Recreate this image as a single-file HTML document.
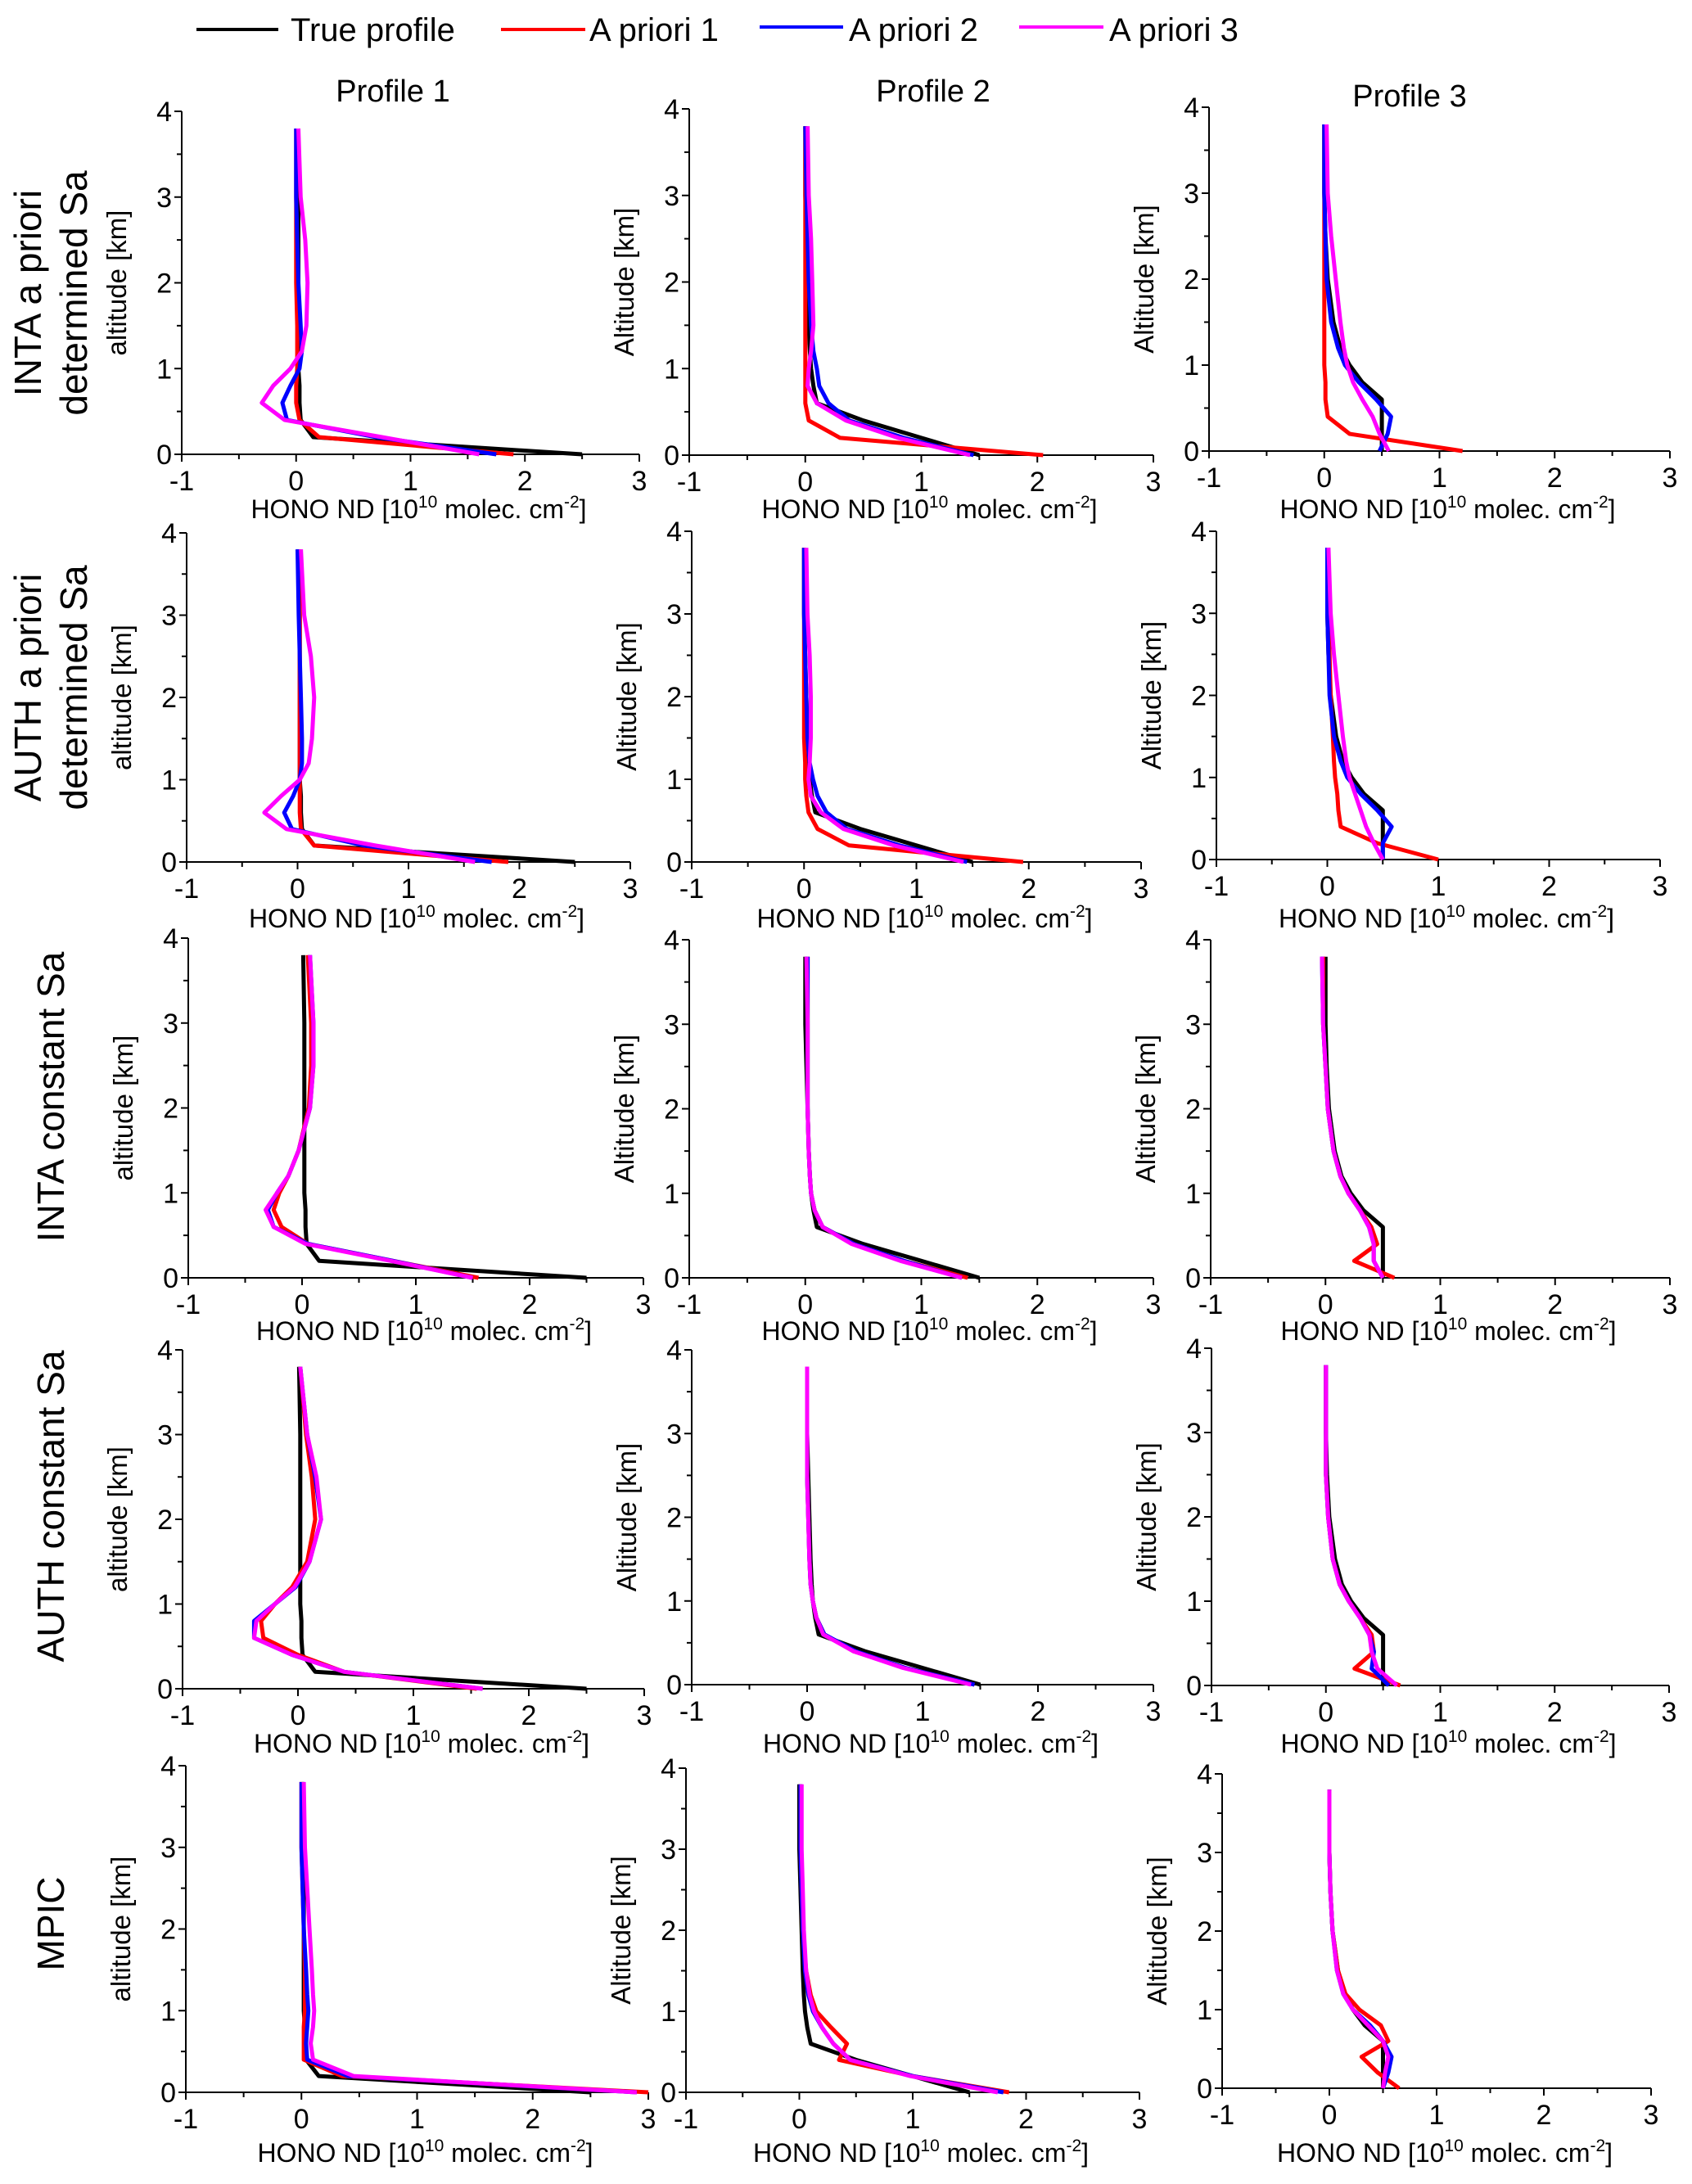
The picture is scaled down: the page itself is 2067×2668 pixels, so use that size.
<!DOCTYPE html>
<html><head><meta charset="utf-8"><style>
html,body{margin:0;padding:0;background:#fff;}
svg{display:block;font-family:"Liberation Sans",Arial,sans-serif;}
</style></head><body>
<svg id="fig" width="2067" height="2668" viewBox="0 0 2067 2668" xmlns="http://www.w3.org/2000/svg">
<g font-size="40">
 <g><line x1="240" y1="36" x2="340" y2="36" stroke="#000" stroke-width="4"/><text x="355" y="50">True profile</text></g>
 <g><line x1="612" y1="36" x2="715" y2="36" stroke="#f00" stroke-width="4"/><text x="720" y="50">A priori 1</text></g>
 <g><line x1="928" y1="33" x2="1030" y2="33" stroke="#00f" stroke-width="4"/><text x="1037" y="50">A priori 2</text></g>
 <g><line x1="1245" y1="33" x2="1348" y2="33" stroke="#f0f" stroke-width="4"/><text x="1355" y="50">A priori 3</text></g>
</g>
<g font-size="38" text-anchor="middle">
 <text x="480" y="124">Profile 1</text>
 <text x="1140" y="124">Profile 2</text>
 <text x="1722" y="130">Profile 3</text>
</g>
<g id="panels"></g>
</svg>
<script>
// altitude grid (km)
const alts = [0,0.2,0.4,0.6,0.8,1.0,1.2,1.5,2.0,2.5,3.0,3.8];
const xTicks = [-1,0,1,2,3];
const yTicks = [0,1,2,3,4];
const rowTitles = [["INTA a priori","determined Sa"],["AUTH a priori","determined Sa"],["INTA constant Sa"],["AUTH constant Sa"],["MPIC"]];
const colNames = ["profile-1","profile-2","profile-3"];
// True profiles
const true1 = [2.5,0.15,0.04,0.03,0.03,0.02,0.02,0.02,0.02,0.02,0.02,0.01];
const true2 = [1.5,1.0,0.5,0.1,0.07,0.05,0.04,0.03,0.02,0.01,0.0,0.0];
const true3 = [0.5,0.5,0.5,0.5,0.33,0.22,0.14,0.08,0.03,0.01,0.0,0.0];
// Row 1: INTA a priori determined Sa
const r1p1a1 = [1.9,0.2,0.03,0.0,0.0,0.01,0.01,0.01,0.0,0.0,0.0,0.0];
const r1p1a2 = [1.75,0.7,-0.08,-0.12,-0.05,0.03,0.05,0.04,0.02,0.01,0.0,0.0];
const r1p1a3 = [1.6,0.75,-0.1,-0.3,-0.2,-0.05,0.05,0.09,0.1,0.08,0.04,0.02];
const r1p2a1 = [2.05,0.3,0.03,0.0,0.0,0.0,0.0,0.0,0.0,0.0,0.0,0.0];
const r1p2a2 = [1.45,0.85,0.38,0.2,0.12,0.1,0.07,0.05,0.03,0.02,0.01,0.0];
const r1p2a3 = [1.42,0.8,0.35,0.1,0.02,0.03,0.05,0.07,0.06,0.05,0.03,0.02];
const r1p3a1 = [1.2,0.22,0.03,0.01,0.01,0.0,0.0,0.0,0.0,0.0,0.0,0.0];
const r1p3a2 = [0.48,0.55,0.58,0.45,0.3,0.18,0.12,0.06,0.02,0.01,0.0,0.0];
const r1p3a3 = [0.56,0.48,0.42,0.33,0.25,0.2,0.17,0.14,0.1,0.06,0.03,0.02];
// Row 2: AUTH a priori determined Sa
const r2p1a1 = [1.9,0.15,0.03,0.02,0.02,0.02,0.02,0.02,0.02,0.02,0.02,0.02];
const r2p1a2 = [1.75,0.6,-0.05,-0.12,-0.04,0.02,0.04,0.04,0.03,0.02,0.01,0.0];
const r2p1a3 = [1.6,0.7,-0.1,-0.3,-0.15,0.02,0.1,0.13,0.15,0.12,0.06,0.03];
const r2p2a1 = [1.95,0.4,0.12,0.04,0.02,0.01,0.01,0.0,0.0,0.0,0.0,0.0];
const r2p2a2 = [1.45,0.85,0.38,0.2,0.12,0.08,0.05,0.03,0.02,0.01,0.0,0.0];
const r2p2a3 = [1.42,0.8,0.35,0.15,0.06,0.04,0.05,0.06,0.06,0.05,0.03,0.02];
const r2p3a1 = [1.0,0.45,0.12,0.1,0.09,0.07,0.06,0.05,0.03,0.02,0.01,0.0];
const r2p3a2 = [0.5,0.5,0.58,0.45,0.3,0.18,0.12,0.06,0.02,0.01,0.0,0.0];
const r2p3a3 = [0.5,0.42,0.35,0.3,0.25,0.2,0.17,0.14,0.1,0.06,0.03,0.01];
// Row 3: INTA constant Sa
const r3p1a1 = [1.55,0.8,0.05,-0.18,-0.25,-0.2,-0.12,-0.03,0.06,0.08,0.08,0.05];
const r3p1a2 = [1.5,0.8,0.05,-0.25,-0.3,-0.22,-0.12,-0.03,0.07,0.1,0.1,0.07];
const r3p1a3 = [1.5,0.78,0.03,-0.25,-0.32,-0.22,-0.12,-0.03,0.07,0.1,0.1,0.07];
const r3p2a1 = [1.4,0.85,0.42,0.15,0.08,0.05,0.04,0.03,0.02,0.02,0.02,0.02];
const r3p2a2 = [1.35,0.85,0.42,0.15,0.08,0.05,0.04,0.03,0.02,0.02,0.02,0.02];
const r3p2a3 = [1.35,0.82,0.4,0.15,0.08,0.05,0.04,0.03,0.02,0.02,0.02,0.01];
const r3p3a1 = [0.6,0.25,0.45,0.4,0.3,0.2,0.13,0.07,0.02,0.0,-0.02,-0.02];
const r3p3a2 = [0.5,0.42,0.42,0.38,0.3,0.2,0.13,0.07,0.02,0.0,-0.02,-0.03];
const r3p3a3 = [0.5,0.42,0.42,0.38,0.3,0.2,0.13,0.07,0.02,0.0,-0.02,-0.03];
// Row 4: AUTH constant Sa
const r4p1a1 = [1.55,0.4,0.0,-0.3,-0.32,-0.2,-0.05,0.08,0.15,0.12,0.07,0.02];
const r4p1a2 = [1.6,0.4,-0.05,-0.38,-0.38,-0.2,-0.02,0.1,0.2,0.15,0.08,0.02];
const r4p1a3 = [1.6,0.4,-0.05,-0.38,-0.36,-0.2,-0.03,0.1,0.2,0.16,0.08,0.02];
const r4p2a1 = [1.45,0.85,0.4,0.15,0.08,0.05,0.03,0.02,0.01,0.0,0.0,0.0];
const r4p2a2 = [1.45,0.85,0.42,0.15,0.08,0.05,0.03,0.02,0.01,0.0,0.0,0.0];
const r4p2a3 = [1.42,0.83,0.4,0.14,0.08,0.05,0.03,0.02,0.01,0.0,0.0,0.0];
const r4p3a1 = [0.65,0.25,0.42,0.4,0.3,0.2,0.12,0.06,0.02,0.0,0.0,0.0];
const r4p3a2 = [0.55,0.4,0.42,0.38,0.3,0.2,0.12,0.06,0.02,0.0,0.0,0.0];
const r4p3a3 = [0.62,0.45,0.4,0.38,0.3,0.2,0.12,0.06,0.02,0.0,0.0,0.0];
// Row 5: MPIC
const r5p1a1 = [3.0,0.35,0.02,0.02,0.02,0.03,0.03,0.03,0.02,0.01,0.0,0.0];
const r5p1a2 = [2.9,0.4,0.05,0.04,0.05,0.06,0.05,0.04,0.02,0.01,0.0,0.0];
const r5p1a3 = [2.9,0.45,0.1,0.08,0.1,0.11,0.1,0.09,0.07,0.05,0.03,0.02];
const r5p2a1 = [1.85,1.0,0.35,0.42,0.28,0.15,0.1,0.06,0.03,0.02,0.01,0.01];
const r5p2a2 = [1.8,1.0,0.45,0.3,0.2,0.12,0.08,0.05,0.03,0.02,0.01,0.01];
const r5p2a3 = [1.75,0.98,0.45,0.3,0.2,0.13,0.09,0.06,0.04,0.03,0.02,0.02];
const r5p3a1 = [0.65,0.45,0.3,0.55,0.48,0.28,0.15,0.08,0.03,0.01,0.0,0.0];
const r5p3a2 = [0.5,0.55,0.58,0.5,0.38,0.22,0.13,0.07,0.03,0.01,0.0,0.0];
const r5p3a3 = [0.5,0.52,0.55,0.5,0.36,0.22,0.13,0.07,0.03,0.01,0.0,0.0];

const panelBoxes = [
 [[222,781,136,555],[842,1409,133,556],[1477,2040,131,551]],
 [[228,770,651,1053],[845,1394,649,1053],[1486,2028,649,1050]],
 [[230,786,1146,1561],[842,1409,1148,1561],[1479,2040,1148,1561]],
 [[223,787,1649,2063],[845,1409,1649,2058],[1480,2039,1647,2059]],
 [[227,792,2157,2556],[838,1392,2160,2556],[1493,2017,2167,2551]]
];
const xLabelY = [633,1133,1637,2141,2641];
const rowTitleY = [358,840,1340,1840,2350];
const trues = [true1,true2,true3];
const retrievals = [
 [[r1p1a1,r1p1a2,r1p1a3],[r1p2a1,r1p2a2,r1p2a3],[r1p3a1,r1p3a2,r1p3a3]],
 [[r2p1a1,r2p1a2,r2p1a3],[r2p2a1,r2p2a2,r2p2a3],[r2p3a1,r2p3a2,r2p3a3]],
 [[r3p1a1,r3p1a2,r3p1a3],[r3p2a1,r3p2a2,r3p2a3],[r3p3a1,r3p3a2,r3p3a3]],
 [[r4p1a1,r4p1a2,r4p1a3],[r4p2a1,r4p2a2,r4p2a3],[r4p3a1,r4p3a2,r4p3a3]],
 [[r5p1a1,r5p1a2,r5p1a3],[r5p2a1,r5p2a2,r5p2a3],[r5p3a1,r5p3a2,r5p3a3]]
];
const colors = ["#000","#f00","#00f","#f0f"];
const seriesNames = ["true-profile","apriori-1","apriori-2","apriori-3"];
const NS = "http://www.w3.org/2000/svg";
const root = document.getElementById("panels");
function mk(tag, attrs, parent){const e=document.createElementNS(NS,tag);for(const k in attrs)e.setAttribute(k,attrs[k]);parent.appendChild(e);return e;}

rowTitles.forEach((lines, r) => {
  const t = mk("text", {transform:`translate(${lines.length>1?50:78},${rowTitleY[r]}) rotate(-90)`, "font-size":"46", "text-anchor":"middle"}, root);
  
  
  lines.forEach((ln,i)=>{const ts=mk("tspan",{x:0,dy:i===0?0:56},t);ts.textContent=ln;});
});

for (let r=0;r<5;r++) for (let c=0;c<3;c++){
  const [x0,x1,yt,yb] = panelBoxes[r][c];
  const sx = v => x0 + (v+1)/4*(x1-x0);
  const sy = a => yb - a/4*(yb-yt);
  const g = mk("g",{},root);
  
  
  const ax = mk("g",{stroke:"#000","stroke-width":"2"},g);
  
  
  mk("line",{x1:x0,y1:yb,x2:x1,y2:yb},ax);
  mk("line",{x1:x0,y1:yb,x2:x0,y2:yt},ax);
  for(let v=-1; v<=3.001; v+=0.5){const big=Math.abs(v-Math.round(v))<1e-6;mk("line",{x1:sx(v),y1:yb,x2:sx(v),y2:yb+(big?9:6)},ax);}
  for(let a=0; a<=4.001; a+=0.5){const big=Math.abs(a-Math.round(a))<1e-6;mk("line",{x1:x0,y1:sy(a),x2:x0-(big?9:6),y2:sy(a)},ax);}
  xTicks.forEach(v=>{const t=mk("text",{x:sx(v),y:yb+44,"font-size":"34","text-anchor":"middle"},g);t.textContent=v;
    
    });
  yTicks.forEach(a=>{const t=mk("text",{x:x0-12,y:sy(a)+12,"font-size":"34","text-anchor":"end"},g);t.textContent=a;
    
    });
  const yl = mk("text",{transform:`translate(${x0-68},${(yt+yb)/2}) rotate(-90)`,"font-size":"33","text-anchor":"middle"},g);
  yl.textContent = c===0 ? "altitude [km]" : "Altitude [km]";
  
  
  const xl = mk("text",{x:(x0+x1)/2+10,y:xLabelY[r],"font-size":"32","text-anchor":"middle"},g);
  
  
  xl.innerHTML = 'HONO ND [10<tspan dy="-13" font-size="21">10</tspan><tspan dy="13"> molec. cm</tspan><tspan dy="-13" font-size="21">-2</tspan><tspan dy="13">]</tspan>';
  const series = [trues[c]].concat(retrievals[r][c]);
  series.forEach((vals,i)=>{
    const d = vals.map((v,k)=>(k?"L":"M")+sx(v).toFixed(1)+" "+sy(alts[k]).toFixed(1)).join(" ");
    const p = mk("path",{d:d,fill:"none",stroke:colors[i],"stroke-width":"5","stroke-linejoin":"round"},g);
    
    
  });
}
</script>
</body></html>
